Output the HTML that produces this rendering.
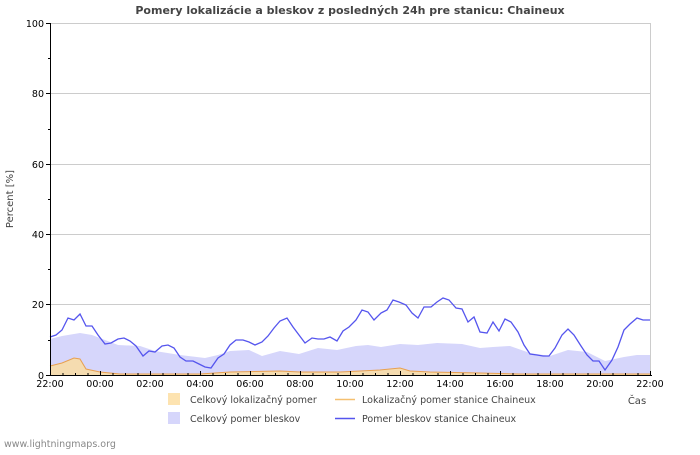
<!DOCTYPE html>
<html><head><meta charset="utf-8"><style>
body{margin:0;background:#fff;width:700px;height:450px;overflow:hidden;font-family:"Liberation Sans","DejaVu Sans",sans-serif}
</style></head><body>
<svg width="700" height="450" xmlns="http://www.w3.org/2000/svg" font-family="DejaVu Sans, Liberation Sans, sans-serif">
<rect width="700" height="450" fill="#fff"/>
<text x="350" y="14" text-anchor="middle" font-size="11" font-weight="bold" fill="#444">Pomery lokalizácie a bleskov z posledných 24h pre stanicu: Chaineux</text>
<g stroke="#ccc" stroke-width="1">
<line x1="50" y1="23.5" x2="650" y2="23.5"/><line x1="50" y1="93.5" x2="650" y2="93.5"/><line x1="50" y1="164.5" x2="650" y2="164.5"/><line x1="50" y1="234.5" x2="650" y2="234.5"/><line x1="50" y1="304.5" x2="650" y2="304.5"/>
<line x1="650.5" y1="23" x2="650.5" y2="375"/>
</g>
<polygon fill="#d6d6fb" points="50,375 50,339 62,336 80,333 92,335 105,340 118,345 140,346 155,351 180,355 205,358 218,355 230,351 249,350 262,356 280,351 299,354 318,348 337,350 356,346 368,345 381,347 400,344 418,345 437,343 462,344 480,348 493,347 510,346 530,353 550,356 568,350 587,352 605,361 624,357 637,355 650,355 650,375"/>
<polygon fill="#f5dcb0" points="50,375 50,366 62,363 74,358 80,359 86,369 100,372 120,374 200,374 230,372 280,371 300,372 340,372 380,370 400,368 410,371 430,372 480,373 520,374 600,374 650,374 650,375"/>
<polyline fill="none" stroke="#e8a050" stroke-width="1" points="50,366 62,363 74,358 80,359 86,369 100,372 120,374 200,374 230,372 280,371 300,372 340,372 380,370 400,368 410,371 430,372 480,373 520,374 600,374 650,374"/>
<polyline fill="none" stroke="#5555ee" stroke-width="1.3" points="50,337 56,335 62,330 68,318 74,320 80,314 86,326 92,326 98,335 105,344 111,343 118,339 124,338 130,341 136,346 143,356 149,351 155,352 162,346 168,345 174,348 180,357 186,361 193,361 199,364 205,367 211,368 218,358 224,354 230,345 236,340 243,340 249,342 255,345 262,342 268,336 274,328 280,321 287,318 293,327 299,335 305,343 312,338 318,339 324,339 330,337 337,341 343,331 349,327 356,320 362,310 368,312 374,320 381,313 387,310 393,300 399,302 406,305 412,313 418,318 424,307 431,307 437,302 443,298 449,300 456,308 462,309 468,322 474,317 480,332 487,333 493,322 499,331 505,319 511,322 518,332 524,345 530,354 537,355 543,356 549,356 555,348 562,335 568,329 574,335 581,346 587,355 593,361 599,361 605,370 612,360 618,347 624,330 630,324 637,318 643,320 650,320"/>
<g stroke="#000" stroke-width="1">
<line x1="50.5" y1="23" x2="50.5" y2="375"/><line x1="50" y1="375.5" x2="652" y2="375.5"/>
<line x1="46" y1="23.5" x2="50" y2="23.5"/><line x1="46" y1="93.5" x2="50" y2="93.5"/><line x1="46" y1="164.5" x2="50" y2="164.5"/><line x1="46" y1="234.5" x2="50" y2="234.5"/><line x1="46" y1="304.5" x2="50" y2="304.5"/><line x1="46" y1="375.5" x2="50" y2="375.5"/>
<line x1="48" y1="58.5" x2="50" y2="58.5"/><line x1="48" y1="129.5" x2="50" y2="129.5"/><line x1="48" y1="199.5" x2="50" y2="199.5"/><line x1="48" y1="269.5" x2="50" y2="269.5"/><line x1="48" y1="340.5" x2="50" y2="340.5"/>
</g>
<g stroke="#000" stroke-width="1" id="t"></g>
<g font-size="9.5" fill="#000" text-anchor="end">
<text x="44" y="27">100</text><text x="44" y="97">80</text><text x="44" y="168">60</text><text x="44" y="238">40</text><text x="44" y="308">20</text><text x="44" y="379">0</text>
</g>
<g font-size="9.5" fill="#000" text-anchor="middle">
<text x="50" y="387">22:00</text><text x="100" y="387">00:00</text><text x="150" y="387">02:00</text><text x="200" y="387">04:00</text><text x="250" y="387">06:00</text><text x="300" y="387">08:00</text><text x="350" y="387">10:00</text><text x="400" y="387">12:00</text><text x="450" y="387">14:00</text><text x="500" y="387">16:00</text><text x="550" y="387">18:00</text><text x="600" y="387">20:00</text><text x="650" y="387">22:00</text>
</g>
<text x="637" y="404" font-size="10" fill="#444" text-anchor="middle">Čas</text>
<text transform="translate(13,199) rotate(-90)" font-size="10" fill="#444" text-anchor="middle">Percent   [%]</text>
<rect x="168" y="393" width="12" height="12" fill="#fde3b0"/>
<text x="190" y="403" font-size="9.5" fill="#444">Celkový lokalizačný pomer</text>
<rect x="168" y="412" width="12" height="12" fill="#d6d6fb"/>
<text x="190" y="422" font-size="9.5" fill="#444">Celkový pomer bleskov</text>
<line x1="335" y1="399.5" x2="355" y2="399.5" stroke="#f5c070" stroke-width="1.5"/>
<text x="362" y="403" font-size="9.5" fill="#444">Lokalizačný pomer stanice Chaineux</text>
<line x1="335" y1="418.5" x2="355" y2="418.5" stroke="#5555ee" stroke-width="1.5"/>
<text x="362" y="422" font-size="9.5" fill="#444">Pomer bleskov stanice Chaineux</text>
<text x="4" y="447" font-size="9.5" fill="#888">www.lightningmaps.org</text>
</svg>
<script>
var g=document.getElementById('t'),s='';
for(var i=0;i<=48;i++){var x=50+i*12.5+0.5;s+='<line x1="'+x+'" y1="'+(i%4==0?371:373)+'" x2="'+x+'" y2="375"/>';}
g.innerHTML=s;
</script>
</body></html>
